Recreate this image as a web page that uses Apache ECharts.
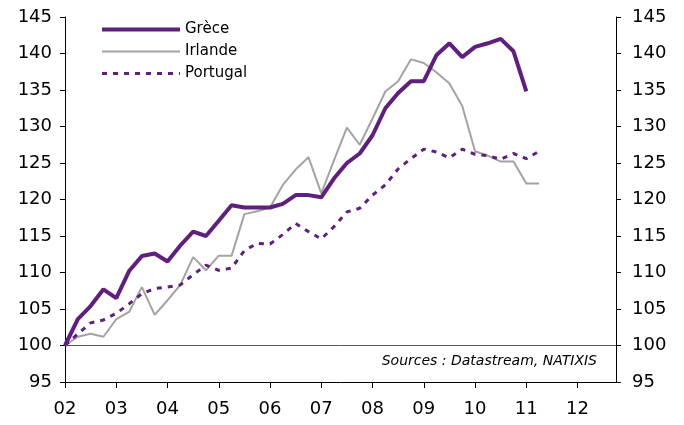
<!DOCTYPE html>
<html>
<head>
<meta charset="utf-8">
<script src="https://cdn.jsdelivr.net/npm/echarts@6/dist/echarts.min.js"></script>
<style>
html,body{margin:0;padding:0;background:#fff;}
#chart{width:684px;height:425px;}
</style>
</head>
<body>
<div id="chart"></div>
<script>
// Quarterly index values, 2002 Q1 = 100
const startYear = 2002;
const seriesNames = ['Grèce', 'Irlande', 'Portugal'];
const grece = [100, 103.6, 105.4, 107.7, 106.5, 110.2, 112.25, 112.6, 111.5, 113.7, 115.6, 115.0, 117.1, 119.2, 118.9, 118.9, 118.9, 119.4, 120.6, 120.6, 120.3, 122.9, 125.0, 126.3, 128.8, 132.5, 134.6, 136.2, 136.2, 139.8, 141.4, 139.5, 140.9, 141.4, 142.0, 140.3, 134.8];
const irlande = [100, 101.2, 101.6, 101.2, 103.6, 104.6, 108.0, 104.2, 106.2, 108.3, 112.1, 110.3, 112.3, 112.3, 118.0, 118.4, 118.9, 122.0, 124.1, 125.8, 120.85, 125.4, 129.85, 127.5, 131.1, 134.8, 136.2, 139.2, 138.7, 137.4, 135.9, 132.8, 126.6, 126.0, 125.2, 125.2, 122.2, 122.2];
const portugal = [100, 101.6, 103.1, 103.5, 104.4, 105.7, 107.1, 107.8, 108.0, 108.3, 109.7, 111.0, 110.3, 110.6, 113.0, 114.0, 113.9, 115.2, 116.7, 115.6, 114.6, 116.3, 118.3, 118.8, 120.6, 122.0, 124.2, 125.6, 126.9, 126.5, 125.7, 126.9, 126.2, 126.0, 125.5, 126.3, 125.6, 126.6];
const yearTicks = ['02','03','04','05','06','07','08','09','10','11','12'];
const sourceText = 'Sources : Datastream, NATIXIS';

function toPairs(arr) { return arr.map((v, i) => [startYear + i / 4, v]); }

const purple = '#5E1F7D';
const grey = '#A3A3A3';
const font = 'DejaVu Sans';

const chart = echarts.init(document.getElementById('chart'), null, {renderer: 'canvas'});
const yAxisCommon = {
  type: 'value', min: 95, max: 145, interval: 5,
  axisLine: {show: true, lineStyle: {color: '#000', width: 1}},
  axisTick: {show: true, inside: false, length: 5, lineStyle: {color: '#000'}},
  splitLine: {show: false},
  axisLabel: {color: '#000', fontSize: 18, fontFamily: font, margin: 10}
};
chart.setOption({
  animation: false,
  backgroundColor: '#fff',
  grid: {left: 65, right: 68, top: 17, bottom: 43, containLabel: false},
  legend: {
    orient: 'vertical', left: 100, top: 22, padding: 0, itemWidth: 78, itemHeight: 15, itemGap: 7,
    itemStyle: {opacity: 0},
    textStyle: {color: '#000', fontSize: 15, fontFamily: font, lineHeight: 15},
    data: [
      {name: seriesNames[0], lineStyle: {width: 4, color: purple}},
      {name: seriesNames[1], lineStyle: {width: 2, color: grey}},
      {name: seriesNames[2], lineStyle: {width: 3, color: purple, type: [5, 6]}}
    ]
  },
  xAxis: {
    type: 'value', min: 2002, max: 2012.75, interval: 1,
    axisLine: {show: true, onZero: false, lineStyle: {color: '#000', width: 1}},
    axisTick: {show: true, length: 6, lineStyle: {color: '#000'}},
    splitLine: {show: false},
    axisLabel: {
      color: '#000', fontSize: 18, fontFamily: font, margin: 18, showMaxLabel: false,
      formatter: function (v) {
        const idx = Math.round(v - startYear);
        return (Math.abs(v - Math.round(v)) < 1e-6 && yearTicks[idx]) ? yearTicks[idx] : '';
      }
    }
  },
  yAxis: [
    Object.assign({}, yAxisCommon, {position: 'left', axisLabel: Object.assign({}, yAxisCommon.axisLabel, {margin: 13})}),
    Object.assign({}, yAxisCommon, {position: 'right', axisLabel: Object.assign({}, yAxisCommon.axisLabel, {margin: 16})})
  ],
  graphic: [{
    type: 'text', right: 87, top: 354,
    style: {text: sourceText, fill: '#000', font: 'italic 14px "DejaVu Sans"'}
  }],
  series: [
    {
      name: seriesNames[1], type: 'line', data: toPairs(irlande), symbol: 'none',
      lineStyle: {color: grey, width: 2}, itemStyle: {color: grey}, z: 2,
      markLine: {
        silent: true, symbol: 'none', label: {show: false},
        lineStyle: {color: '#555', width: 1, type: 'solid'},
        data: [{yAxis: 100}]
      }
    },
    {
      name: seriesNames[2], type: 'line', data: toPairs(portugal), symbol: 'none',
      lineStyle: {color: purple, width: 3, type: [5, 6]}, itemStyle: {color: purple}, z: 3
    },
    {
      name: seriesNames[0], type: 'line', data: toPairs(grece), symbol: 'none',
      lineStyle: {color: purple, width: 4}, itemStyle: {color: purple}, z: 4
    }
  ]
});
</script>
</body>
</html>
